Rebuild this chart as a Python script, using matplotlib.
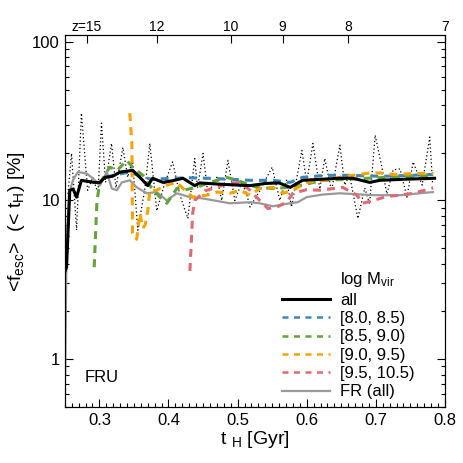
import matplotlib
matplotlib.use("Agg")
import matplotlib.pyplot as plt
from matplotlib.lines import Line2D
from matplotlib.ticker import MultipleLocator, FixedLocator, NullFormatter

plt.rcParams['font.family'] = ['Liberation Sans', 'DejaVu Sans']
plt.rcParams['mathtext.fontset'] = 'custom'
plt.rcParams['mathtext.rm'] = 'Liberation Sans'
plt.rcParams['mathtext.it'] = 'Liberation Sans'
plt.rcParams['mathtext.default'] = 'regular'

# --- data ---
all_t = [0.2505, 0.2525, 0.2572, 0.262, 0.267, 0.274, 0.283, 0.292, 0.3006, 0.308,
         0.319, 0.330, 0.340, 0.348, 0.3585, 0.370, 0.377, 0.392, 0.405, 0.421,
         0.438, 0.445, 0.470, 0.500, 0.518, 0.540, 0.560, 0.576, 0.594, 0.620,
         0.648, 0.667, 0.691, 0.706, 0.740, 0.785]
all_f = [3.6, 3.8, 11.6, 11.8, 10.5, 13.4, 13.2, 13.0, 13.0, 14.0,
         14.2, 15.1, 15.3, 15.5, 14.0, 12.4, 13.8, 13.0, 13.3, 13.8,
         12.4, 12.9, 12.7, 12.5, 12.4, 12.8, 12.9, 12.1, 13.4, 13.6,
         13.8, 13.8, 13.0, 13.4, 13.6, 13.8]

dot_t = [0.2545, 0.2597, 0.267, 0.274, 0.283, 0.2905, 0.298, 0.303, 0.309, 0.3176,
         0.324, 0.334, 0.341, 0.348, 0.3556, 0.366, 0.373, 0.383, 0.395, 0.406,
         0.416, 0.428, 0.438, 0.442, 0.450, 0.457, 0.470, 0.477, 0.486, 0.496,
         0.506, 0.513, 0.518, 0.532, 0.550, 0.561, 0.571, 0.578, 0.593, 0.600,
         0.609, 0.619, 0.626, 0.636, 0.648, 0.655, 0.662, 0.674, 0.684, 0.691,
         0.699, 0.709, 0.716, 0.725, 0.735, 0.745, 0.754, 0.767, 0.778, 0.782]
dot_f = [11.0, 19.8, 6.5, 35.5, 11.6, 14.0, 11.1, 30.7, 13.0, 22.9,
         12.0, 21.6, 14.0, 18.0, 6.5, 12.0, 22.9, 8.6, 13.0, 17.5,
         11.0, 7.7, 18.4, 12.0, 19.8, 11.0, 14.0, 10.0, 17.9, 10.0,
         13.0, 11.0, 9.1, 11.5, 16.2, 10.0, 13.5, 9.1, 20.7, 13.0,
         22.9, 11.8, 18.4, 11.5, 22.3, 12.5, 14.5, 7.7, 12.0, 9.5,
         25.8, 16.0, 11.0, 15.6, 15.8, 10.5, 17.5, 12.5, 25.1, 13.0]

m1_t = [0.310, 0.322, 0.344, 0.360, 0.375, 0.406, 0.430, 0.458, 0.490, 0.518,
        0.551, 0.576, 0.594, 0.628, 0.661, 0.709, 0.752, 0.783]
m1_f = [14.0, 14.5, 15.1, 14.2, 13.6, 13.8, 13.9, 13.8, 13.6, 13.4,
        13.4, 13.0, 14.0, 14.4, 14.4, 14.2, 14.4, 14.6]

m2_t = [0.2925, 0.2965, 0.3006, 0.315, 0.326, 0.3397, 0.348, 0.363, 0.373, 0.3875,
        0.3976, 0.412, 0.421, 0.441, 0.4555, 0.484, 0.499, 0.528, 0.551, 0.576,
        0.590, 0.623, 0.6625, 0.687, 0.716, 0.759, 0.783]
m2_f = [3.8, 10.0, 12.8, 16.2, 15.5, 17.9, 16.2, 14.4, 12.4, 10.5,
        9.6, 11.9, 11.6, 12.1, 12.8, 14.0, 13.4, 12.1, 11.9, 12.1,
        12.4, 13.4, 13.6, 13.8, 14.0, 14.2, 14.4]

m3_t = [0.344, 0.347, 0.348, 0.354, 0.3585, 0.363, 0.366, 0.370, 0.373, 0.383,
        0.3947, 0.412, 0.4265, 0.435, 0.4555, 0.470, 0.4888, 0.503, 0.518, 0.532,
        0.551, 0.5655, 0.580, 0.600, 0.623, 0.648, 0.667, 0.691, 0.706, 0.725,
        0.759, 0.783]
m3_f = [35.5, 22.9, 6.2, 5.7, 8.3, 6.7, 7.0, 8.6, 11.6, 11.6,
        12.4, 13.0, 11.3, 10.5, 10.8, 11.3, 11.1, 11.6, 10.8, 11.9,
        12.1, 11.1, 11.6, 13.0, 13.4, 14.0, 14.4, 14.9, 14.9, 14.6,
        14.8, 14.8]

m4_t = [0.431, 0.435, 0.438, 0.4525, 0.470, 0.4844, 0.503, 0.518, 0.532, 0.5438,
        0.557, 0.571, 0.580, 0.600, 0.619, 0.652, 0.6726, 0.681, 0.696, 0.716,
        0.735, 0.7536, 0.774, 0.783]
m4_f = [3.6, 8.3, 10.0, 11.5, 12.1, 12.8, 13.0, 11.6, 10.0, 8.9,
        9.1, 9.75, 11.1, 11.7, 11.6, 12.1, 10.8, 9.6, 10.0, 10.6,
        10.8, 11.1, 11.7, 12.0]

fr_t = [0.2505, 0.2525, 0.256, 0.262, 0.2688, 0.2814, 0.2905, 0.3006, 0.3108, 0.318,
        0.3253, 0.3325, 0.344, 0.354, 0.3687, 0.383, 0.3976, 0.412, 0.431, 0.4497,
        0.4888, 0.518, 0.532, 0.551, 0.5756, 0.587, 0.600, 0.623, 0.648, 0.696,
        0.735, 0.7826]
fr_f = [0.8, 5.0, 11.0, 13.5, 15.1, 14.8, 13.8, 12.4, 15.1, 11.9,
        11.6, 13.0, 13.4, 12.1, 11.1, 11.3, 10.0, 11.1, 10.5, 10.3,
        9.6, 9.75, 9.6, 9.2, 9.6, 9.75, 10.5, 10.9, 11.1, 10.8,
        10.8, 11.3]

bin_labels = ['[8.0, 8.5)', '[8.5, 9.0)', '[9.0, 9.5)', '[9.5, 10.5)']
bin_colors = ['#3a88b5', '#62a33c', '#f5a300', '#de6b73']

z_labels = ['z=15', '12', '10', '9', '8', '7']
z_t = [0.282, 0.383, 0.490, 0.565, 0.660, 0.800]

fig = plt.figure(figsize=(4.63, 4.63), dpi=100)
ax = fig.add_axes([0.140, 0.121, 0.821, 0.803])

ax.plot(dot_t, dot_f, color='black', lw=0.9, linestyle=(0, (1, 2)))
ax.plot(fr_t, fr_f, color='#999999', lw=1.6)
for tt, ff, c in zip([m1_t, m2_t, m3_t, m4_t], [m1_f, m2_f, m3_f, m4_f], bin_colors):
    ax.plot(tt, ff, color=c, lw=2.2, dashes=(2.6, 2.0))
ax.plot(all_t, all_f, color='black', lw=2.2)

ax.set_yscale('log')
ax.set_xlim(0.25, 0.8)
ax.set_ylim(0.5, 110)
ax.set_yticks([1, 10, 100])
ax.set_yticklabels(['1', '10', '100'])
ax.yaxis.set_minor_formatter(NullFormatter())
ax.xaxis.set_major_locator(MultipleLocator(0.1))
ax.xaxis.set_minor_locator(MultipleLocator(0.01))
ax.tick_params(which='both', direction='in', right=True, labelsize=12)
ax.tick_params(which='major', length=6, width=0.8)
ax.tick_params(which='minor', length=3, width=0.8)
ax.tick_params(axis='x', pad=4)

ax.set_xlabel(r't $_{H}$ [Gyr]', fontsize=14, labelpad=1)
ax.set_ylabel(r'<f$_{esc}$>  (< t$_{H}$) [%]', fontsize=14, labelpad=4)

# redshift axis on top
top = ax.twiny()
top.set_xlim(ax.get_xlim())
top.xaxis.set_major_locator(FixedLocator(z_t))
top.set_xticklabels(z_labels)
top.xaxis.set_minor_locator(FixedLocator([]))
top.tick_params(direction='in', length=6, width=0.8, labelsize=10, pad=1)

ax.text(0.053, 0.067, 'FRU', transform=ax.transAxes, fontsize=12)

handles = [Line2D([], [], color='none'),
           Line2D([], [], color='black', lw=2.2)]
handles += [Line2D([], [], color=c, lw=1.8, dashes=(2.4, 2.2)) for c in bin_colors]
handles += [Line2D([], [], color='#999999', lw=1.6)]
labels = [r'log M$_{vir}$', 'all'] + bin_labels + ['FR (all)']
ax.legend(handles, labels, loc='lower right', bbox_to_anchor=(0.96, -0.02),
          frameon=False, fontsize=12, handlelength=2.9, handletextpad=0.6,
          labelspacing=0.2)

fig.savefig('out.png', dpi=100)
